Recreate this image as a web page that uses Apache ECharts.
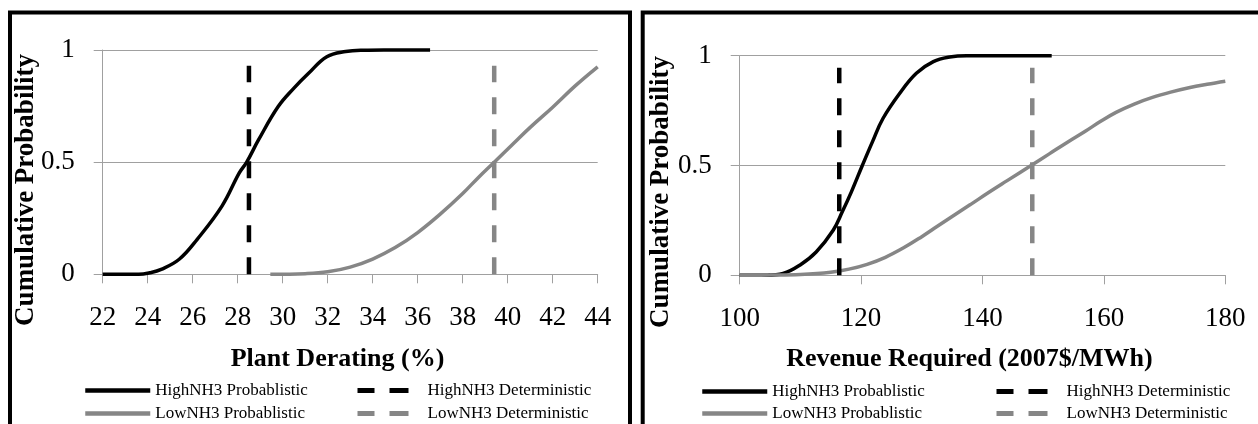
<!DOCTYPE html>
<html>
<head>
<meta charset="utf-8">
<script src="https://cdn.jsdelivr.net/npm/echarts@6/dist/echarts.min.js"></script>
<style>
html,body{margin:0;padding:0;background:#fff;}
#chart{width:1258px;height:424px;}
</style>
</head>
<body>
<div id="chart"></div>
<script>
// ---- Data ----
// Left panel: Plant Derating (%)
var leftHighX = [22, 23.6, 24.1, 24.6, 25.4, 26.2, 27.3, 28.07, 28.4, 28.93, 29.8, 30.5, 31.15, 31.96, 32.8, 33.6, 34.5, 36.55];
var leftHighY = [0, 0, 0.007, 0.022, 0.067, 0.156, 0.304, 0.452, 0.5, 0.6, 0.748, 0.83, 0.896, 0.97, 0.993, 0.999, 1, 1];
var leftLowX = [29.45, 31, 32, 33, 34, 35, 36, 37, 38, 38.7, 39.4, 40.2, 41, 42, 43, 44];
var leftLowY = [0, 0.003, 0.011, 0.032, 0.068, 0.119, 0.186, 0.268, 0.36, 0.432, 0.5, 0.578, 0.655, 0.745, 0.84, 0.925];
var leftHighDetX = [28.5, 28.5];
var leftLowDetX = [39.4, 39.4];
var leftDetY = [0, 0.93];

// Right panel: Revenue Required (2007$/MWh)
var rightHighX = [100, 104.5, 107.15, 109.9, 112.6, 115.4, 116.9, 118.4, 120.2, 121.9, 123.6, 126.4, 129.1, 131.9, 134.6, 137.4, 151.4];
var rightHighY = [0, 0, 0.008, 0.046, 0.106, 0.205, 0.289, 0.38, 0.5, 0.61, 0.714, 0.83, 0.92, 0.973, 0.994, 1, 1];
var rightLowX = [100, 105, 110, 115, 118, 121, 124, 127, 130, 132, 135, 138, 141, 144, 148, 151, 154, 157, 159.4, 162, 165, 168, 171, 174, 177, 180];
var rightLowY = [0, 0.001, 0.004, 0.014, 0.028, 0.05, 0.082, 0.125, 0.176, 0.213, 0.268, 0.322, 0.377, 0.43, 0.5, 0.553, 0.606, 0.657, 0.7, 0.742, 0.78, 0.81, 0.834, 0.854, 0.87, 0.884];
var rightHighDetX = [116.4, 116.4];
var rightLowDetX = [148.2, 148.2];
var rightDetY = [0, 0.945];

var leftTicks = {min: 22, max: 44, interval: 2};
var rightTicks = {min: 100, max: 180, interval: 20};
var yTicks = {min: 0, max: 1, interval: 0.5};

var names = ['HighNH3 Probablistic', 'LowNH3 Probablistic', 'HighNH3 Deterministic', 'LowNH3 Deterministic'];
var leftXTitle = 'Plant Derating (%)';
var rightXTitle = 'Revenue Required (2007$/MWh)';
var yTitle = 'Cumulative Probability';

function zip(xs, ys) { return xs.map(function (x, i) { return [x, ys[i]]; }); }

var FONT = "'Liberation Serif', 'Times New Roman', serif";
var AXIS_GRAY = '#a0a0a0';
var SERIES_GRAY = '#868686';

function xAxis(grid, t) {
  return {
    type: 'value', gridIndex: grid, min: t.min, max: t.max, interval: t.interval,
    axisLine: {show: true, onZero: false, lineStyle: {color: AXIS_GRAY, width: 1}},
    axisTick: {show: true, inside: false, length: 9, lineStyle: {color: AXIS_GRAY, width: 1}},
    axisLabel: {show: true, margin: 30, fontSize: 27, fontFamily: FONT, color: '#000'},
    splitLine: {show: false}
  };
}
function yAxis(grid) {
  return {
    type: 'value', gridIndex: grid, min: yTicks.min, max: yTicks.max, interval: yTicks.interval,
    axisLine: {show: true, lineStyle: {color: AXIS_GRAY, width: 1}},
    axisTick: {show: true, inside: false, length: 9, lineStyle: {color: AXIS_GRAY, width: 1}},
    axisLabel: {show: true, margin: 28, fontSize: 27, fontFamily: FONT, color: '#000'},
    splitLine: {show: true, lineStyle: {color: AXIS_GRAY, width: 1}}
  };
}
function lineSeries(name, idx, data, color, dashed) {
  return {
    name: name, type: 'line', xAxisIndex: idx, yAxisIndex: idx, data: data,
    symbol: 'none', showSymbol: false, clip: false,
    smooth: dashed ? false : 0.4,
    lineStyle: dashed ? {color: color, width: 4.5, type: [17, 15], cap: 'butt'} : {color: color, width: 3.5},
    itemStyle: {color: color},
    emphasis: {disabled: true}
  };
}
function legend(left, top, name, dashed) {
  return {
    left: left, top: top, orient: 'horizontal', padding: 0,
    itemWidth: 65, itemHeight: 14,
    data: [name], selectedMode: false,
    lineStyle: dashed ? {width: 5, type: [17, 15, 19, 14]} : {width: 4.5},
    itemStyle: {opacity: 0, borderWidth: 0},
    textStyle: {fontFamily: FONT, fontSize: 17, color: '#000'}
  };
}

var chart = echarts.init(document.getElementById('chart'), null, {renderer: 'canvas'});
chart.setOption({
  animation: false,
  backgroundColor: '#fff',
  grid: [
    {left: 102.7, right: 660.3, top: 50, bottom: 149.7},
    {left: 739.7, right: 32.7, top: 55.7, bottom: 148.7}
  ],
  xAxis: [xAxis(0, leftTicks), xAxis(1, rightTicks)],
  yAxis: [yAxis(0), yAxis(1)],
  legend: [
    legend(83, 382, names[0], false),
    legend(83, 405, names[1], false),
    legend(355, 382, names[2], true),
    legend(355, 405, names[3], true),
    legend(700, 383, names[0], false),
    legend(700, 405, names[1], false),
    legend(994, 383, names[2], true),
    legend(994, 405, names[3], true)
  ],
  series: [
    lineSeries(names[0], 0, zip(leftHighX, leftHighY), '#000', false),
    lineSeries(names[1], 0, zip(leftLowX, leftLowY), SERIES_GRAY, false),
    lineSeries(names[2], 0, zip(leftHighDetX, leftDetY), '#000', true),
    lineSeries(names[3], 0, zip(leftLowDetX, leftDetY), SERIES_GRAY, true),
    lineSeries(names[0], 1, zip(rightHighX, rightHighY), '#000', false),
    lineSeries(names[1], 1, zip(rightLowX, rightLowY), SERIES_GRAY, false),
    lineSeries(names[2], 1, zip(rightHighDetX, rightDetY), '#000', true),
    lineSeries(names[3], 1, zip(rightLowDetX, rightDetY), SERIES_GRAY, true)
  ],
  graphic: [
    {type: 'rect', silent: true, z: 100, shape: {x: 10, y: 12.5, width: 620, height: 460}, style: {fill: 'none', stroke: '#000', lineWidth: 4}},
    {type: 'rect', silent: true, z: 100, shape: {x: 642.7, y: 12.5, width: 700, height: 460}, style: {fill: 'none', stroke: '#000', lineWidth: 4}},
    {type: 'text', silent: true, x: 337.5, y: 359, style: {text: leftXTitle, font: "bold 26px " + FONT, fill: '#000', align: 'center', verticalAlign: 'middle'}},
    {type: 'text', silent: true, x: 969.5, y: 359, style: {text: rightXTitle, font: "bold 26px " + FONT, fill: '#000', align: 'center', verticalAlign: 'middle'}},
    {type: 'text', silent: true, x: 26, y: 190, rotation: Math.PI / 2, style: {text: yTitle, font: "bold 27px " + FONT, fill: '#000', align: 'center', verticalAlign: 'middle'}},
    {type: 'text', silent: true, x: 661, y: 192, rotation: Math.PI / 2, style: {text: yTitle, font: "bold 27px " + FONT, fill: '#000', align: 'center', verticalAlign: 'middle'}}
  ]
});
</script>
</body>
</html>
